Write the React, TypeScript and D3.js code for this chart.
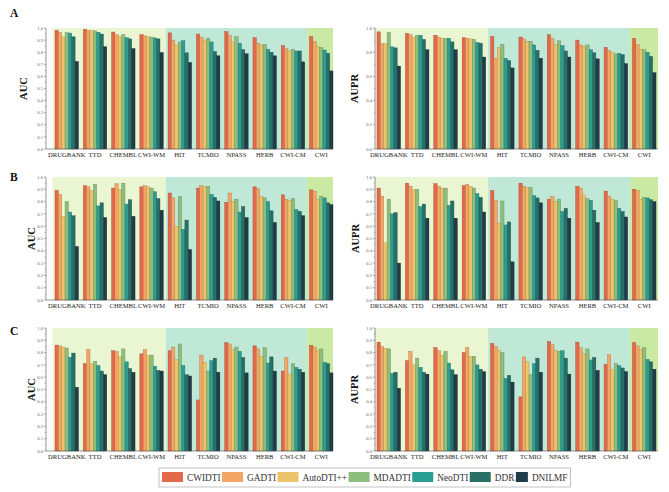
import * as d3 from "d3";
import { useEffect, useRef } from "react";

const datasets = ["DRUGBANK", "TTD", "CHEMBL", "CWI-WM", "HIT", "TCMIO", "NPASS", "HERB", "CWI-CM", "CWI"];
const methods = ["CWIDTI", "GADTI", "AutoDTI++", "MDADTI", "NeoDTI", "DDR", "DNILMF"];
const colors = ["#E4684A", "#F2A565", "#EEC46A", "#8DBE7E", "#2A9E92", "#286F66", "#1F3D48"];
// background groups: first and last dataset of each shaded block
const regions = [
  { from: "DRUGBANK", to: "CWI-WM", color: "#E9F6D1" },
  { from: "HIT", to: "CWI-CM", color: "#C0E8D7" },
  { from: "CWI", to: "CWI", color: "#CAEAA4" },
];

// values per dataset, in the order of `methods`
const aucA = [
  [0.98, 0.963, 0.927, 0.962, 0.958, 0.927, 0.723],
  [0.99, 0.98, 0.978, 0.976, 0.965, 0.95, 0.845],
  [0.967, 0.945, 0.928, 0.945, 0.92, 0.91, 0.83],
  [0.945, 0.935, 0.928, 0.925, 0.918, 0.91, 0.797],
  [0.96, 0.9, 0.86, 0.885, 0.895, 0.795, 0.715],
  [0.95, 0.925, 0.9, 0.915, 0.885, 0.805, 0.77],
  [0.97, 0.94, 0.885, 0.928, 0.875, 0.82, 0.787],
  [0.92, 0.875, 0.86, 0.865, 0.825, 0.8, 0.77],
  [0.855, 0.83, 0.81, 0.825, 0.81, 0.81, 0.72],
  [0.928, 0.89, 0.845, 0.84, 0.818, 0.79, 0.645],
];
const auprA = [
  [0.968, 0.87, 0.87, 0.963, 0.844, 0.836, 0.685],
  [0.955, 0.945, 0.925, 0.94, 0.94, 0.905, 0.82],
  [0.94, 0.925, 0.915, 0.915, 0.915, 0.885, 0.82],
  [0.92, 0.915, 0.91, 0.905, 0.88, 0.875, 0.76],
  [0.93, 0.75, 0.84, 0.865, 0.75, 0.73, 0.67],
  [0.925, 0.91, 0.89, 0.89, 0.86, 0.815, 0.75],
  [0.945, 0.915, 0.865, 0.895, 0.855, 0.81, 0.76],
  [0.9, 0.86, 0.85, 0.86, 0.82, 0.795, 0.745],
  [0.84, 0.815, 0.8, 0.785, 0.79, 0.78, 0.705],
  [0.915, 0.865, 0.825, 0.82, 0.8, 0.765, 0.63],
];
const aucB = [
  [0.891, 0.86, 0.68, 0.8, 0.715, 0.685, 0.435],
  [0.93, 0.92, 0.89, 0.94, 0.765, 0.79, 0.67],
  [0.91, 0.945, 0.9, 0.95, 0.78, 0.815, 0.68],
  [0.92, 0.93, 0.92, 0.91, 0.88, 0.825, 0.73],
  [0.87, 0.83, 0.6, 0.84, 0.575, 0.65, 0.41],
  [0.91, 0.93, 0.92, 0.925, 0.86, 0.835, 0.805],
  [0.795, 0.87, 0.8, 0.82, 0.715, 0.76, 0.67],
  [0.92, 0.905, 0.84, 0.83, 0.8, 0.725, 0.63],
  [0.855, 0.82, 0.81, 0.825, 0.735, 0.72, 0.685],
  [0.895, 0.885, 0.82, 0.845, 0.83, 0.79, 0.775],
];
const auprB = [
  [0.91, 0.845, 0.465, 0.82, 0.7, 0.71, 0.3],
  [0.95, 0.925, 0.895, 0.9, 0.76, 0.78, 0.665],
  [0.945, 0.925, 0.91, 0.91, 0.77, 0.805, 0.665],
  [0.93, 0.94, 0.925, 0.91, 0.865, 0.835, 0.715],
  [0.89, 0.81, 0.625, 0.805, 0.61, 0.635, 0.31],
  [0.95, 0.925, 0.915, 0.915, 0.85, 0.83, 0.79],
  [0.82, 0.84, 0.8, 0.82, 0.72, 0.745, 0.665],
  [0.925, 0.91, 0.855, 0.825, 0.81, 0.73, 0.63],
  [0.885, 0.845, 0.82, 0.81, 0.745, 0.72, 0.675],
  [0.9, 0.89, 0.82, 0.835, 0.83, 0.815, 0.8],
];
const aucC = [
  [0.861, 0.855, 0.845, 0.837, 0.763, 0.796, 0.518],
  [0.71, 0.825, 0.71, 0.73, 0.695, 0.65, 0.62],
  [0.815, 0.81, 0.765, 0.83, 0.725, 0.67, 0.64],
  [0.79, 0.825, 0.775, 0.78, 0.69, 0.655, 0.65],
  [0.815, 0.845, 0.745, 0.87, 0.695, 0.62, 0.61],
  [0.415, 0.78, 0.72, 0.65, 0.735, 0.755, 0.64],
  [0.88, 0.87, 0.825, 0.845, 0.81, 0.76, 0.635],
  [0.855, 0.83, 0.77, 0.84, 0.715, 0.765, 0.65],
  [0.65, 0.76, 0.625, 0.71, 0.68, 0.665, 0.64],
  [0.86, 0.845, 0.815, 0.83, 0.72, 0.71, 0.635],
];
const auprC = [
  [0.885, 0.85, 0.835, 0.83, 0.63, 0.64, 0.51],
  [0.735, 0.81, 0.7, 0.755, 0.68, 0.64, 0.625],
  [0.84, 0.815, 0.78, 0.81, 0.715, 0.66, 0.62],
  [0.8, 0.84, 0.77, 0.77, 0.7, 0.665, 0.645],
  [0.875, 0.85, 0.82, 0.8, 0.59, 0.615, 0.56],
  [0.44, 0.765, 0.725, 0.62, 0.71, 0.755, 0.64],
  [0.89, 0.865, 0.82, 0.81, 0.815, 0.755, 0.625],
  [0.885, 0.84, 0.79, 0.83, 0.74, 0.76, 0.655],
  [0.705, 0.785, 0.66, 0.71, 0.695, 0.675, 0.645],
  [0.88, 0.855, 0.825, 0.84, 0.745, 0.725, 0.665],
];

const rows = [
  { letter: "A", top: 28, bottom: 149, letterY: 17, labelY: 156.5, titleX: [23.5, 354] },
  { letter: "B", top: 177, bottom: 300, letterY: 181, labelY: 308, titleX: [31.5, 355] },
  { letter: "C", top: 328, bottom: 451, letterY: 335, labelY: 459, titleX: [31.5, 354] },
];
const cols = [
  { axis: 46, right: 333, barStart: 55, barEnd: 333 },
  { axis: 375, right: 658, barStart: 377, barEnd: 656 },
];
const panels = [
  { row: 0, col: 0, title: "AUC", values: aucA, step: 0.1 },
  { row: 0, col: 1, title: "AUPR", values: auprA, step: 0.2 },
  { row: 1, col: 0, title: "AUC", values: aucB, step: 0.1 },
  { row: 1, col: 1, title: "AUPR", values: auprB, step: 0.1 },
  { row: 2, col: 0, title: "AUC", values: aucC, step: 0.1 },
  { row: 2, col: 1, title: "AUPR", values: auprC, step: 0.1 },
];

const serif = "'Liberation Serif', 'Times New Roman', serif";

function Chart() {
  const ref = useRef<SVGSVGElement>(null);

  useEffect(() => {
    const svg = d3.select(ref.current);
    svg.selectAll("*").remove();

    panels.forEach((p) => {
      const r = rows[p.row];
      const c = cols[p.col];
      const g = svg.append("g");

      const x = d3.scaleBand().domain(datasets).range([c.barStart, c.barEnd]).paddingInner(0.17).paddingOuter(0);
      const x1 = d3.scaleBand().domain(methods).range([0, x.bandwidth()]);
      const y = d3.scaleLinear().domain([0, 1]).range([r.bottom, r.top]);
      const half = (x.step() - x.bandwidth()) / 2;

      // shaded blocks
      regions.forEach((reg) => {
        const x0 = Math.max(c.axis, (x(reg.from) as number) - half);
        const xe = Math.min(c.right, (x(reg.to) as number) + x.bandwidth() + half);
        g.append("rect")
          .attr("x", x0)
          .attr("y", r.top)
          .attr("width", xe - x0)
          .attr("height", r.bottom - r.top)
          .attr("fill", reg.color);
      });

      // bars
      g.append("g")
        .selectAll("g")
        .data(p.values)
        .join("g")
        .attr("transform", (_, i) => `translate(${x(datasets[i])},0)`)
        .selectAll("rect")
        .data((d) => d.map((v, j) => ({ v, j })))
        .join("rect")
        .attr("x", (d) => x1(methods[d.j]) as number)
        .attr("y", (d) => y(d.v))
        .attr("width", x1.bandwidth())
        .attr("height", (d) => r.bottom - y(d.v))
        .attr("fill", (d) => colors[d.j])
        .attr("stroke", (d) => d3.color(colors[d.j])!.darker(0.9).formatHex())
        .attr("stroke-width", 0.4);

      // y axis
      const major = d3.range(0, 1 + 1e-9, p.step);
      const minor = major.slice(0, -1).map((v) => v + p.step / 2);
      g.append("line")
        .attr("x1", c.axis).attr("x2", c.axis)
        .attr("y1", r.top).attr("y2", r.bottom)
        .attr("stroke", "#555").attr("stroke-width", 0.6);
      g.selectAll(".maj")
        .data(major)
        .join("line")
        .attr("x1", c.axis - 2).attr("x2", c.axis)
        .attr("y1", (d) => y(d)).attr("y2", (d) => y(d))
        .attr("stroke", "#555").attr("stroke-width", 0.5);
      g.selectAll(".min")
        .data(minor)
        .join("line")
        .attr("x1", c.axis - 1.2).attr("x2", c.axis)
        .attr("y1", (d) => y(d)).attr("y2", (d) => y(d))
        .attr("stroke", "#555").attr("stroke-width", 0.4);
      g.selectAll(".lab")
        .data(major)
        .join("text")
        .attr("x", c.axis - 3)
        .attr("y", (d) => y(d) + 1.6)
        .attr("text-anchor", "end")
        .attr("font-family", serif)
        .attr("font-size", 4.6)
        .attr("fill", "#666")
        .text((d) => d3.format(".1f")(d));

      // x axis
      g.append("line")
        .attr("x1", c.axis).attr("x2", c.right)
        .attr("y1", r.bottom).attr("y2", r.bottom)
        .attr("stroke", "#555").attr("stroke-width", 0.6);
      g.selectAll(".cat")
        .data(datasets)
        .join("text")
        .attr("x", (d) => (x(d) as number) + x.bandwidth() / 2)
        .attr("y", r.labelY)
        .attr("text-anchor", "middle")
        .attr("font-family", serif)
        .attr("font-size", 6.6)
        .attr("fill", "#222")
        .text((d) => d);

      // axis title
      const tx = r.titleX[p.col];
      const ty = (r.top + r.bottom) / 2;
      g.append("text")
        .attr("transform", `translate(${tx},${ty}) rotate(-90)`)
        .attr("dy", "0.35em")
        .attr("text-anchor", "middle")
        .attr("font-family", serif)
        .attr("font-weight", "bold")
        .attr("font-size", 10.5)
        .attr("fill", "#111")
        .text(p.title);
    });

    // panel letters
    svg.selectAll(".letter")
      .data(rows)
      .join("text")
      .attr("x", 10)
      .attr("y", (d) => d.letterY)
      .attr("font-family", serif)
      .attr("font-weight", "bold")
      .attr("font-size", 11.5)
      .attr("fill", "#111")
      .text((d) => d.letter);

    // legend
    const lg = svg.append("g");
    const box = lg.append("rect")
      .attr("y", 468)
      .attr("height", 19)
      .attr("fill", "none")
      .attr("stroke", "#999")
      .attr("stroke-width", 0.6);
    let cx = 162;
    methods.forEach((m, i) => {
      const sw = i === methods.length - 1 ? 12 : 21;
      lg.append("rect")
        .attr("x", cx).attr("y", 472)
        .attr("width", sw).attr("height", 10)
        .attr("fill", colors[i]);
      const t = lg.append("text")
        .attr("x", cx + sw + 4)
        .attr("y", 480.8)
        .attr("font-family", serif)
        .attr("font-size", 9.3)
        .attr("fill", "#333")
        .text(m);
      const w = (t.node() as SVGTextElement).getComputedTextLength();
      cx = cx + sw + 4 + w + 1.5;
    });
    box.attr("x", 159).attr("width", cx - 159 + 1.5);
  }, []);

  return <svg ref={ref} width={669} height={492} style={{ display: "block", background: "#fff" }} />;
}

export default function App() {
  return (
    <div style={{ position: "absolute", left: 0, top: 0 }}>
      <Chart />
    </div>
  );
}
